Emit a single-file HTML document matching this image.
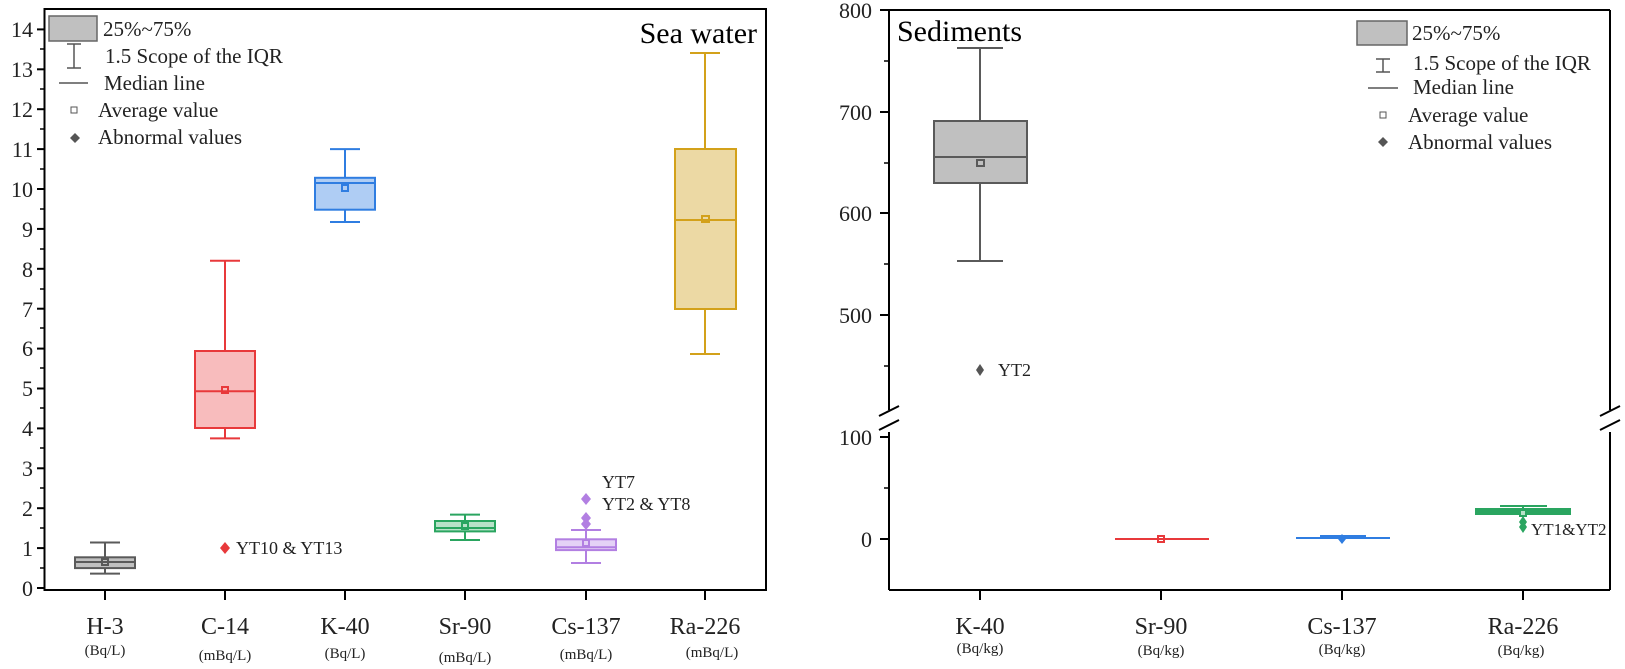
<!DOCTYPE html>
<html><head><meta charset="utf-8"><style>
html,body{margin:0;padding:0;background:#fff;}
svg{display:block;font-family:"Liberation Serif",serif;}
</style></head><body>
<svg width="1625" height="669" viewBox="0 0 1625 669" xmlns="http://www.w3.org/2000/svg">
<!-- LEFT PLOT -->
<rect x="44.5" y="9" width="721.5" height="581" fill="none" stroke="#000" stroke-width="2"/>
<g stroke="#000" stroke-width="2">
<line x1="37" y1="588" x2="44" y2="588"/><line x1="37" y1="548.1" x2="44" y2="548.1"/><line x1="37" y1="508.2" x2="44" y2="508.2"/><line x1="37" y1="468.3" x2="44" y2="468.3"/><line x1="37" y1="428.4" x2="44" y2="428.4"/><line x1="37" y1="388.5" x2="44" y2="388.5"/><line x1="37" y1="348.6" x2="44" y2="348.6"/><line x1="37" y1="308.7" x2="44" y2="308.7"/><line x1="37" y1="268.8" x2="44" y2="268.8"/><line x1="37" y1="228.9" x2="44" y2="228.9"/><line x1="37" y1="189" x2="44" y2="189"/><line x1="37" y1="149.1" x2="44" y2="149.1"/><line x1="37" y1="109.2" x2="44" y2="109.2"/><line x1="37" y1="69.3" x2="44" y2="69.3"/><line x1="37" y1="29.4" x2="44" y2="29.4"/>
</g>
<g stroke="#000" stroke-width="1.5">
<line x1="40" y1="568" x2="44" y2="568"/><line x1="40" y1="528" x2="44" y2="528"/><line x1="40" y1="488" x2="44" y2="488"/><line x1="40" y1="448" x2="44" y2="448"/><line x1="40" y1="408" x2="44" y2="408"/><line x1="40" y1="368" x2="44" y2="368"/><line x1="40" y1="328" x2="44" y2="328"/><line x1="40" y1="289" x2="44" y2="289"/><line x1="40" y1="249" x2="44" y2="249"/><line x1="40" y1="209" x2="44" y2="209"/><line x1="40" y1="169" x2="44" y2="169"/><line x1="40" y1="129" x2="44" y2="129"/><line x1="40" y1="89" x2="44" y2="89"/><line x1="40" y1="49" x2="44" y2="49"/>
</g>
<g font-size="22" text-anchor="end" fill="#222">
<text x="33" y="596">0</text><text x="33" y="556">1</text><text x="33" y="516">2</text><text x="33" y="476">3</text><text x="33" y="436">4</text><text x="33" y="396">5</text><text x="33" y="356">6</text><text x="33" y="317">7</text><text x="33" y="277">8</text><text x="33" y="237">9</text><text x="33" y="197">10</text><text x="33" y="157">11</text><text x="33" y="117">12</text><text x="33" y="77">13</text><text x="33" y="37">14</text>
</g>
<g stroke="#000" stroke-width="2">
<line x1="105" y1="590" x2="105" y2="600"/><line x1="225" y1="590" x2="225" y2="600"/><line x1="345" y1="590" x2="345" y2="600"/><line x1="465" y1="590" x2="465" y2="600"/><line x1="586" y1="590" x2="586" y2="600"/><line x1="705" y1="590" x2="705" y2="600"/>
</g>
<g font-size="24" text-anchor="middle" fill="#222">
<text x="105" y="634">H-3</text><text x="225" y="634">C-14</text><text x="345" y="634">K-40</text><text x="465" y="634">Sr-90</text><text x="586" y="634">Cs-137</text><text x="705" y="634">Ra-226</text>
</g>
<g font-size="15" text-anchor="middle" fill="#222">
<text x="105" y="655">(Bq/L)</text><text x="225" y="660">(mBq/L)</text><text x="345" y="658">(Bq/L)</text><text x="465" y="662">(mBq/L)</text><text x="586" y="659">(mBq/L)</text><text x="712" y="657">(mBq/L)</text>
</g>
<!-- H-3 -->
<g stroke="#5a5a5a" stroke-width="2" fill="none">
<line x1="105" y1="542.5" x2="105" y2="573.6"/><line x1="90" y1="542.5" x2="120" y2="542.5"/><line x1="90" y1="573.6" x2="120" y2="573.6"/>
<rect x="75" y="557.3" width="60" height="10.8" fill="#c0c0c0"/><line x1="75" y1="562" x2="135" y2="562"/><rect x="102" y="559" width="6" height="6"/>
</g>
<!-- C-14 -->
<g stroke="#e8393b" stroke-width="2" fill="none">
<line x1="225" y1="260.8" x2="225" y2="438.4"/><line x1="210" y1="260.8" x2="240" y2="260.8"/><line x1="210" y1="438.4" x2="240" y2="438.4"/>
<rect x="195" y="351" width="60" height="77" fill="#f8bcbd"/><line x1="195" y1="391.3" x2="255" y2="391.3"/><rect x="222" y="387" width="6" height="6"/>
</g>
<path d="M225 542 l5 6 -5 6 -5 -6z" fill="#e8393b"/>
<text x="236" y="554" font-size="18" fill="#222">YT10 &amp; YT13</text>
<!-- K-40 -->
<g stroke="#2f7de1" stroke-width="2" fill="none">
<line x1="345" y1="149.1" x2="345" y2="222"/><line x1="330" y1="149.1" x2="360" y2="149.1"/><line x1="330" y1="222" x2="360" y2="222"/>
<rect x="315" y="177.8" width="60" height="31.9" fill="#afcdf4"/><line x1="315" y1="183" x2="375" y2="183"/><rect x="342" y="185" width="6" height="6"/>
</g>
<!-- Sr-90 -->
<g stroke="#2aa560" stroke-width="2" fill="none">
<line x1="465" y1="514.6" x2="465" y2="540"/><line x1="450" y1="514.6" x2="480" y2="514.6"/><line x1="450" y1="540" x2="480" y2="540"/>
<rect x="435" y="521" width="60" height="10.4" fill="#b8e2c8"/><line x1="435" y1="528" x2="495" y2="528"/><rect x="462" y="523" width="6" height="6"/>
</g>
<!-- Cs-137 -->
<g stroke="#b27fe2" stroke-width="2" fill="none">
<line x1="586" y1="530" x2="586" y2="563"/><line x1="571" y1="530" x2="601" y2="530"/><line x1="571" y1="563" x2="601" y2="563"/>
<rect x="556" y="539.3" width="60" height="10.8" fill="#e4d1f6"/><line x1="556" y1="547.3" x2="616" y2="547.3"/><rect x="583" y="540" width="6" height="6"/>
</g>
<g fill="#b27fe2">
<path d="M586 493 l5 6 -5 6 -5 -6z"/><path d="M586 512 l5 6 -5 6 -5 -6z"/><path d="M586 518 l5 6 -5 6 -5 -6z"/>
</g>
<text x="602" y="488" font-size="18" fill="#222">YT7</text>
<text x="602" y="510" font-size="18" fill="#222">YT2 &amp; YT8</text>
<!-- Ra-226 -->
<g stroke="#d3a11a" stroke-width="2" fill="none">
<line x1="705" y1="53" x2="705" y2="354"/><line x1="690" y1="53" x2="720" y2="53"/><line x1="690" y1="354" x2="720" y2="354"/>
<rect x="675" y="149" width="61" height="160" fill="#ecd9a4"/><line x1="675" y1="220" x2="736" y2="220"/><rect x="702" y="216" width="7" height="6"/>
</g>
<text x="757" y="43" font-size="30" text-anchor="end" fill="#000">Sea water</text>
<!-- left legend -->
<rect x="49" y="16" width="48" height="25" fill="#c0c0c0" stroke="#666" stroke-width="1.5"/>
<text x="103" y="36" font-size="21" fill="#222">25%~75%</text>
<g stroke="#555" stroke-width="1.5"><line x1="74" y1="44" x2="74" y2="68"/><line x1="67" y1="44" x2="81" y2="44"/><line x1="67" y1="68" x2="81" y2="68"/><line x1="59" y1="83" x2="88" y2="83"/></g>
<text x="105" y="63" font-size="21" fill="#222">1.5 Scope of the IQR</text>
<text x="104" y="90" font-size="21" fill="#222">Median line</text>
<rect x="71" y="107" width="6" height="6" fill="none" stroke="#555" stroke-width="1"/>
<text x="98" y="117" font-size="21" fill="#222">Average value</text>
<path d="M75 133 l5 5 -5 5 -5 -5z" fill="#555"/>
<text x="98" y="144" font-size="21" fill="#222">Abnormal values</text>

<!-- RIGHT PLOT -->
<g stroke="#000" stroke-width="2" fill="none">
<line x1="889" y1="10" x2="1610" y2="10"/>
<line x1="889" y1="590" x2="1610" y2="590"/>
<line x1="889" y1="10" x2="889" y2="410"/><line x1="889" y1="432" x2="889" y2="590"/>
<line x1="1610" y1="10" x2="1610" y2="410"/><line x1="1610" y1="432" x2="1610" y2="590"/>
<line x1="879" y1="416" x2="899" y2="406"/><line x1="879" y1="430" x2="899" y2="420"/>
<line x1="1600" y1="416" x2="1620" y2="406"/><line x1="1600" y1="430" x2="1620" y2="420"/>
<line x1="880" y1="10" x2="889" y2="10"/><line x1="880" y1="112" x2="889" y2="112"/><line x1="880" y1="213" x2="889" y2="213"/><line x1="880" y1="315" x2="889" y2="315"/><line x1="880" y1="437" x2="889" y2="437"/><line x1="880" y1="539" x2="889" y2="539"/>
</g>
<g stroke="#000" stroke-width="1.5">
<line x1="884" y1="61" x2="889" y2="61"/><line x1="884" y1="163" x2="889" y2="163"/><line x1="884" y1="264" x2="889" y2="264"/><line x1="884" y1="366" x2="889" y2="366"/><line x1="884" y1="488" x2="889" y2="488"/>
</g>
<g font-size="22" text-anchor="end" fill="#222">
<text x="872" y="18">800</text><text x="872" y="120">700</text><text x="872" y="221">600</text><text x="872" y="323">500</text><text x="872" y="445">100</text><text x="872" y="547">0</text>
</g>
<g stroke="#000" stroke-width="2">
<line x1="980" y1="590" x2="980" y2="600"/><line x1="1161" y1="590" x2="1161" y2="600"/><line x1="1342" y1="590" x2="1342" y2="600"/><line x1="1523" y1="590" x2="1523" y2="600"/>
</g>
<g font-size="24" text-anchor="middle" fill="#222">
<text x="980" y="634">K-40</text><text x="1161" y="634">Sr-90</text><text x="1342" y="634">Cs-137</text><text x="1523" y="634">Ra-226</text>
</g>
<g font-size="15" text-anchor="middle" fill="#222">
<text x="980" y="653">(Bq/kg)</text><text x="1161" y="655">(Bq/kg)</text><text x="1342" y="654">(Bq/kg)</text><text x="1521" y="655">(Bq/kg)</text>
</g>
<!-- K-40 sediments -->
<g stroke="#5a5a5a" stroke-width="2" fill="none">
<line x1="980" y1="48" x2="980" y2="261"/><line x1="957" y1="48" x2="1003" y2="48"/><line x1="957" y1="261" x2="1003" y2="261"/>
<rect x="934" y="121" width="93" height="62" fill="#c0c0c0"/><line x1="934" y1="157" x2="1027" y2="157"/><rect x="977" y="160" width="7" height="6"/>
</g>
<path d="M980 364 l4 6 -4 6 -4 -6z" fill="#555"/>
<text x="998" y="376" font-size="18" fill="#222">YT2</text>
<!-- Sr-90 -->
<g stroke="#e8393b" stroke-width="2" fill="none">
<line x1="1115" y1="539" x2="1209" y2="539"/><rect x="1158" y="536" width="6" height="6"/>
</g>
<!-- Cs-137 -->
<g stroke="#2f7de1" stroke-width="2" fill="none">
<line x1="1296" y1="538" x2="1390" y2="538"/><line x1="1320" y1="536" x2="1366" y2="536"/>
</g>
<path d="M1342 534 l4 5 -4 5 -4 -5z" fill="#2f7de1"/>
<!-- Ra-226 -->
<g stroke="#2aa560" stroke-width="2" fill="none">
<line x1="1500" y1="506" x2="1547" y2="506"/><line x1="1523" y1="506" x2="1523" y2="509"/>
<rect x="1476" y="509" width="94" height="5" fill="#2aa560"/><rect x="1520" y="510" width="6" height="6" fill="#b8e2c8"/>
</g>
<path d="M1523 516 l4 6 -4 6 -4 -6z M1523 521 l4 6 -4 6 -4 -6z" fill="#2aa560"/>
<text x="1531" y="535" font-size="17" fill="#222">YT1&amp;YT2</text>
<text x="897" y="41" font-size="30" fill="#000">Sediments</text>
<!-- right legend -->
<rect x="1357" y="21" width="50" height="24" fill="#c0c0c0" stroke="#666" stroke-width="1.5"/>
<text x="1412" y="40" font-size="21" fill="#222">25%~75%</text>
<g stroke="#555" stroke-width="1.5"><line x1="1383" y1="59" x2="1383" y2="72"/><line x1="1376" y1="59" x2="1390" y2="59"/><line x1="1376" y1="72" x2="1390" y2="72"/><line x1="1368" y1="88" x2="1398" y2="88"/></g>
<text x="1413" y="70" font-size="21" fill="#222">1.5 Scope of the IQR</text>
<text x="1413" y="94" font-size="21" fill="#222">Median line</text>
<rect x="1380" y="112" width="6" height="6" fill="none" stroke="#555" stroke-width="1"/>
<text x="1408" y="122" font-size="21" fill="#222">Average value</text>
<path d="M1383 137 l5 5 -5 5 -5 -5z" fill="#555"/>
<text x="1408" y="149" font-size="21" fill="#222">Abnormal values</text>
</svg>
</body></html>
